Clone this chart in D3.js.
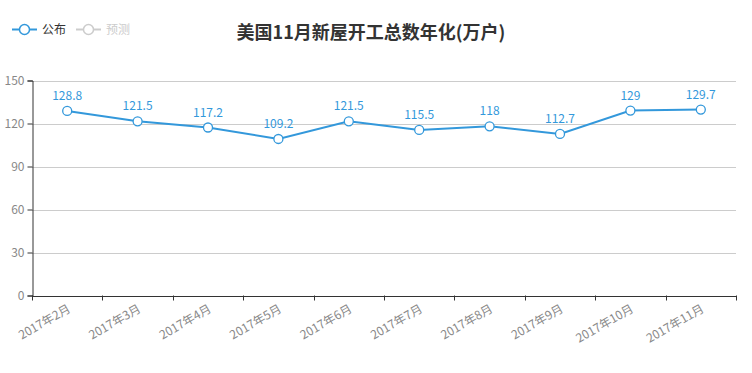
<!DOCTYPE html>
<html><head><meta charset="utf-8">
<script src="https://cdn.jsdelivr.net/npm/d3@7"></script>
<style>
body{margin:0;background:#fff;}
text{font-family:"Noto Sans CJK SC","Noto Sans",sans-serif;}
</style></head>
<body><svg id="c" width="752" height="373"></svg>
<script>
const categories = ["2017年2月","2017年3月","2017年4月","2017年5月","2017年6月","2017年7月","2017年8月","2017年9月","2017年10月","2017年11月"];
const published = [128.8,121.5,117.2,109.2,121.5,115.5,118,112.7,129,129.7];
const yTicks = [0,30,60,90,120,150];
const title = "美国11月新屋开工总数年化(万户)";
const legendItems = ["公布","预测"];

(function(){
const svg = d3.select("#c");
const blue = "#3398DB";
const L = 32, R = 736, T = 80.5, B = 295.5;
const x = d3.scaleBand().domain(categories).range([L, R]);
const y = d3.scaleLinear().domain([0,150]).range([B, T]);

// grid
svg.append("g").selectAll("line").data(yTicks.filter(d=>d>0)).join("line")
  .attr("x1", L).attr("x2", R)
  .attr("y1", d=>Math.round(y(d))+0.5).attr("y2", d=>Math.round(y(d))+0.5)
  .attr("stroke", "#ccc").attr("stroke-width", 1);

// y axis
const yAxis = svg.append("g").attr("transform", `translate(${L+0.5},0)`)
  .call(d3.axisLeft(y).tickValues(yTicks).tickSize(5).tickPadding(3));
yAxis.select(".domain").attr("stroke", "#333");
yAxis.selectAll(".tick line").attr("stroke", "#333");
yAxis.selectAll(".tick text").attr("fill", "#888").style("font-size", "12px")
  .style("font-family", '"Noto Sans CJK SC",sans-serif');

// x axis
const xAxis = svg.append("g").attr("transform", `translate(0,${B+0.5})`)
  .call(d3.axisBottom(x).tickSize(0).tickFormat(""));
xAxis.select(".domain").attr("stroke", "#333");
const tickPos = categories.map(c=>x(c)).concat([R]);
svg.append("g").selectAll("line").data(tickPos).join("line")
  .attr("x1", d=>Math.round(d)+0.5).attr("x2", d=>Math.round(d)+0.5)
  .attr("y1", B).attr("y2", B+5).attr("stroke", "#333");
svg.append("g").selectAll("text").data(categories).join("text")
  .attr("transform", d=>`translate(${x(d)+x.bandwidth()/2+2},${B+12}) rotate(-30)`)
  .attr("text-anchor", "end").attr("dy", "0.35em")
  .attr("fill", "#888").style("font-size", "12px").text(d=>d);

// line
const pts = categories.map((c,i)=>[x(c)+x.bandwidth()/2, y(published[i])]);
svg.append("path").attr("d", d3.line()(pts)).attr("fill","none")
  .attr("stroke", blue).attr("stroke-width", 2);
svg.append("g").selectAll("circle").data(pts).join("circle")
  .attr("cx", d=>d[0]).attr("cy", d=>d[1]).attr("r", 4.5)
  .attr("fill", "#fff").attr("stroke", blue).attr("stroke-width", 1.3);
svg.append("g").selectAll("text").data(published).join("text")
  .attr("x", (d,i)=>pts[i][0]).attr("y", (d,i)=>pts[i][1]-11)
  .attr("text-anchor", "middle").attr("fill", blue).style("font-size", "12px")
  .text(d=>d);

// title
svg.append("text").attr("x", 371).attr("y", 39).attr("text-anchor","middle")
  .attr("fill","#333").style("font-size","18px").style("font-weight","bold").text(title);

// legend
const lg = [{x:12, c:blue, t:"#333"},{x:76, c:"#ccc", t:"#ccc"}];
lg.forEach((l,i)=>{
  const g = svg.append("g");
  g.append("line").attr("x1", l.x).attr("x2", l.x+25).attr("y1", 29.5).attr("y2", 29.5)
    .attr("stroke", l.c).attr("stroke-width", 2);
  g.append("circle").attr("cx", l.x+12.5).attr("cy", 29.5).attr("r", 5)
    .attr("fill","#fff").attr("stroke", l.c).attr("stroke-width", 1.5);
  g.append("text").attr("x", l.x+30).attr("y", 30).attr("dy","0.35em")
    .attr("fill", l.t).style("font-size","12px").text(legendItems[i]);
});
})();
</script></body></html>
